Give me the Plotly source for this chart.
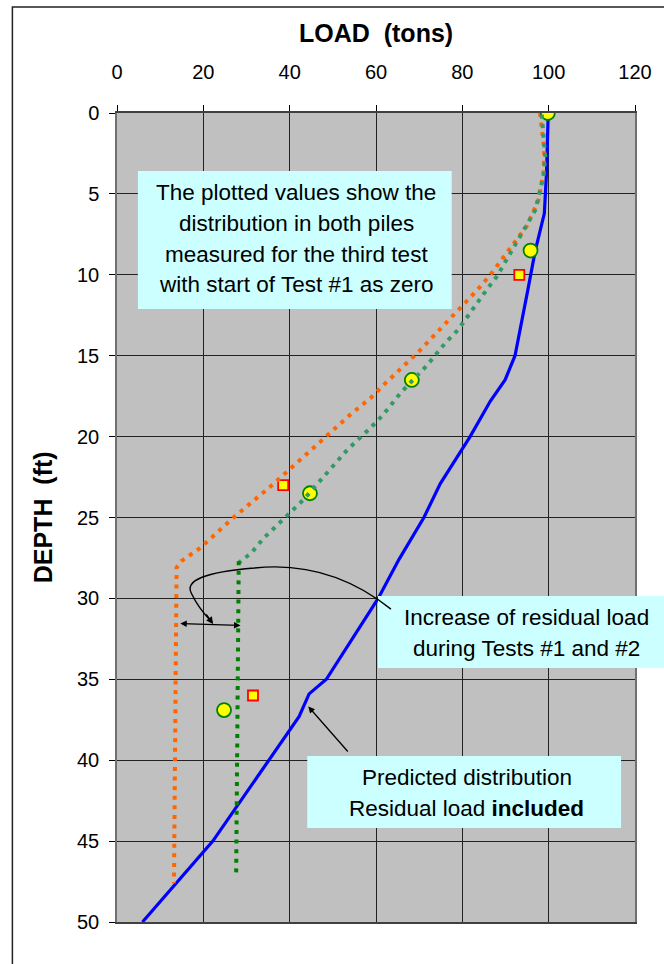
import plotly.graph_objects as go

# ---------------- data ----------------
blue_load = [99.9, 99.5, 99.0, 96.9, 95.2, 93.4, 92.2, 89.9, 86.5, 81.8, 74.9, 71.1, 65.3, 60.5, 48.5, 44.5, 42.2, 22.2, 5.9]
blue_depth = [0, 3.7, 6.2, 8.5, 10.9, 13.4, 15.0, 16.5, 17.8, 20.0, 22.9, 25.0, 27.6, 30.0, 35.0, 35.9, 37.3, 45.0, 50.0]

orange_load = [98.0, 99.0, 98.8, 97.6, 94.9, 90.3, 86.5, 83.6, 74.5, 69.9, 61.8, 58.8, 53.8, 50.4, 45.3, 40.5, 35.5, 27.0, 25.3, 19.2, 14.9, 13.8, 13.2]
orange_depth = [0, 2.3, 3.7, 5.4, 7.0, 8.7, 10.0, 10.9, 13.5, 14.75, 16.8, 17.6, 18.7, 19.55, 20.75, 21.9, 23.1, 25.0, 25.4, 26.9, 27.7, 28.1, 47.6]

teal_load = [98.4, 99.2, 98.8, 96.9, 93.0, 88.0, 85.7, 79.0, 76.1, 71.8, 65.7, 61.5, 58.4, 53.4, 47.8, 43.2, 40.1, 33.9, 31.1, 28.2]
teal_depth = [0.1, 2.7, 3.9, 6.0, 7.8, 10.1, 10.9, 13.4, 14.2, 15.6, 17.3, 18.7, 19.55, 20.8, 22.5, 23.9, 24.7, 26.3, 27.2, 27.8]

green_load = [28.2, 27.6]
green_depth = [27.7, 47.2]

circle_load = [99.8, 95.8, 68.3, 44.7, 24.8]
circle_depth = [0, 8.5, 16.5, 23.5, 36.9]

square_load = [93.2, 38.5, 31.5]
square_depth = [10.0, 23.0, 36.0]

x_ticks = [0, 20, 40, 60, 80, 100, 120]
y_ticks = [0, 5, 10, 15, 20, 25, 30, 35, 40, 45, 50]

box1_lines = ["The plotted values show the", "distribution in both piles",
              "measured for the third test", "with start of Test #1 as zero"]
box2_lines = ["Increase of residual load", "during Tests #1 and #2"]
box3_lines = ["Predicted distribution", "Residual load <b>included</b>"]

# ---------------- layout geometry ----------------
W, H = 664, 964
L, R, T, B = 117, 637, 113, 922
FONT = "Liberation Sans, Arial, sans-serif"


def dx(p):
    return (p - L) / (R - L) * 120.0


def dy(p):
    return (p - T) / (B - T) * 50.0


def px(p):
    return (p - L) / (R - L)


def py(p):
    return (B - p) / (B - T)


fig = go.Figure()

fig.add_trace(go.Scatter(x=blue_load, y=blue_depth, mode="lines",
                         line=dict(color="#0000FF", width=3.2)))
fig.add_trace(go.Scatter(x=square_load, y=square_depth, mode="markers",
                         marker=dict(symbol="square", size=10, color="#FFFF00",
                                     line=dict(color="#FF0000", width=1.8))))
fig.add_trace(go.Scatter(x=orange_load, y=orange_depth, mode="lines",
                         line=dict(color="#FF6600", width=4, dash="4px,5.6px")))
fig.add_trace(go.Scatter(x=circle_load, y=circle_depth, mode="markers",
                         marker=dict(symbol="circle", size=14, color="#FFFF00",
                                     line=dict(color="#008000", width=1.8))))
fig.add_trace(go.Scatter(x=teal_load, y=teal_depth, mode="lines",
                         line=dict(color="#339966", width=4, dash="4px,5.6px")))
fig.add_trace(go.Scatter(x=green_load, y=green_depth, mode="lines",
                         line=dict(color="#008000", width=4, dash="4px,5.6px")))

shapes = []
# outer chart frame (extends past right / bottom edges)
shapes.append(dict(type="rect", xref="paper", yref="paper",
                   x0=px(12), x1=px(700), y0=py(7), y1=py(1000),
                   line=dict(color="#222222", width=1.5), fillcolor="rgba(0,0,0,0)", layer="below"))
# text boxes
for (x0, x1, y0, y1) in [(138, 453, 171, 309), (379, 700, 596, 668), (308, 623, 756, 828)]:
    shapes.append(dict(type="rect", xref="paper", yref="paper",
                       x0=px(x0), x1=px(x1), y0=py(y0), y1=py(y1),
                       line=dict(width=0), fillcolor="#CCFFFF", layer="above"))
# curved connector
path = "M {:.2f},{:.2f} Q {:.2f},{:.2f} {:.2f},{:.2f} Q {:.2f},{:.2f} {:.2f},{:.2f} Q {:.2f},{:.2f} {:.2f},{:.2f}".format(
    dx(392), dy(609),
    dx(330), dy(560), dx(255), dy(568),
    dx(180), dy(574), dx(192), dy(594),
    dx(198), dy(607), dx(212), dy(622))
shapes.append(dict(type="path", xref="x", yref="y", path=path,
                   line=dict(color="#000000", width=1.4), layer="above"))

annotations = []
# axis titles
annotations.append(dict(xref="paper", yref="paper", x=px(377), y=py(33), text="<b>LOAD  (tons)</b>",
                        showarrow=False, font=dict(family=FONT, size=25, color="#000"),
                        xanchor="center", yanchor="middle"))
annotations.append(dict(xref="paper", yref="paper", x=px(43), y=py(517), text="<b>DEPTH  (ft)</b>",
                        showarrow=False, textangle=-90, font=dict(family=FONT, size=25, color="#000"),
                        xanchor="center", yanchor="middle"))
# box text lines
for lines, cx, ys in [(box1_lines, 297, [193, 223.5, 254, 284.5]),
                      (box2_lines, 528, [617, 648]),
                      (box3_lines, 468, [777, 808])]:
    for t, yy in zip(lines, ys):
        annotations.append(dict(xref="paper", yref="paper", x=px(cx), y=py(yy), text=t,
                                showarrow=False, font=dict(family=FONT, size=22.5, color="#000"),
                                xanchor="center", yanchor="middle"))
# arrowhead at end of curved connector
annotations.append(dict(xref="x", yref="y", x=dx(213.5), y=dy(624), ax=-8, ay=-11, text="",
                        showarrow=True, arrowhead=2, arrowsize=1, arrowwidth=1.4, arrowcolor="#000"))
# double-headed arrow between piles
annotations.append(dict(xref="x", yref="y", x=dx(241), y=dy(625.5), axref="x", ayref="y",
                        ax=dx(179), ay=dy(623.5), text="", showarrow=True, arrowhead=2,
                        startarrowhead=2, arrowside="end+start", arrowsize=1, startarrowsize=1,
                        arrowwidth=1.3, arrowcolor="#000"))
# arrow to predicted distribution
annotations.append(dict(xref="x", yref="y", x=dx(309), y=dy(706.5), axref="x", ayref="y",
                        ax=dx(350), ay=dy(753), text="", showarrow=True, arrowhead=2,
                        arrowsize=1, arrowwidth=1.3, arrowcolor="#000"))

fig.update_layout(
    width=W, height=H,
    margin=dict(l=L, r=W - R, t=T, b=H - B, pad=0),
    paper_bgcolor="#FFFFFF", plot_bgcolor="#C0C0C0",
    showlegend=False,
    font=dict(family=FONT, size=20, color="#000"),
    shapes=shapes, annotations=annotations,
    xaxis=dict(side="top", range=[0, 120], tickvals=x_ticks, ticktext=[str(v) for v in x_ticks],
               showgrid=True, gridcolor="#222222", gridwidth=1,
               showline=True, linecolor="#404040", linewidth=1.5, mirror=True,
               ticks="outside", ticklen=6, tickcolor="#000", tickwidth=1,
               ticklabelstandoff=18, zeroline=False, fixedrange=True,
               tickfont=dict(family=FONT, size=20, color="#000")),
    yaxis=dict(range=[50, 0], tickvals=y_ticks, ticktext=[str(v) for v in y_ticks],
               showgrid=True, gridcolor="#222222", gridwidth=1,
               showline=True, linecolor="#707070", linewidth=1.5, mirror=True,
               ticks="outside", ticklen=6, tickcolor="#000", tickwidth=1,
               ticklabelstandoff=6, zeroline=False, fixedrange=True,
               tickfont=dict(family=FONT, size=20, color="#000")),
)

fig.write_html("out.html", config={"displayModeBar": False},
               post_script="document.body.style.margin='0';document.body.style.overflow='hidden';")
